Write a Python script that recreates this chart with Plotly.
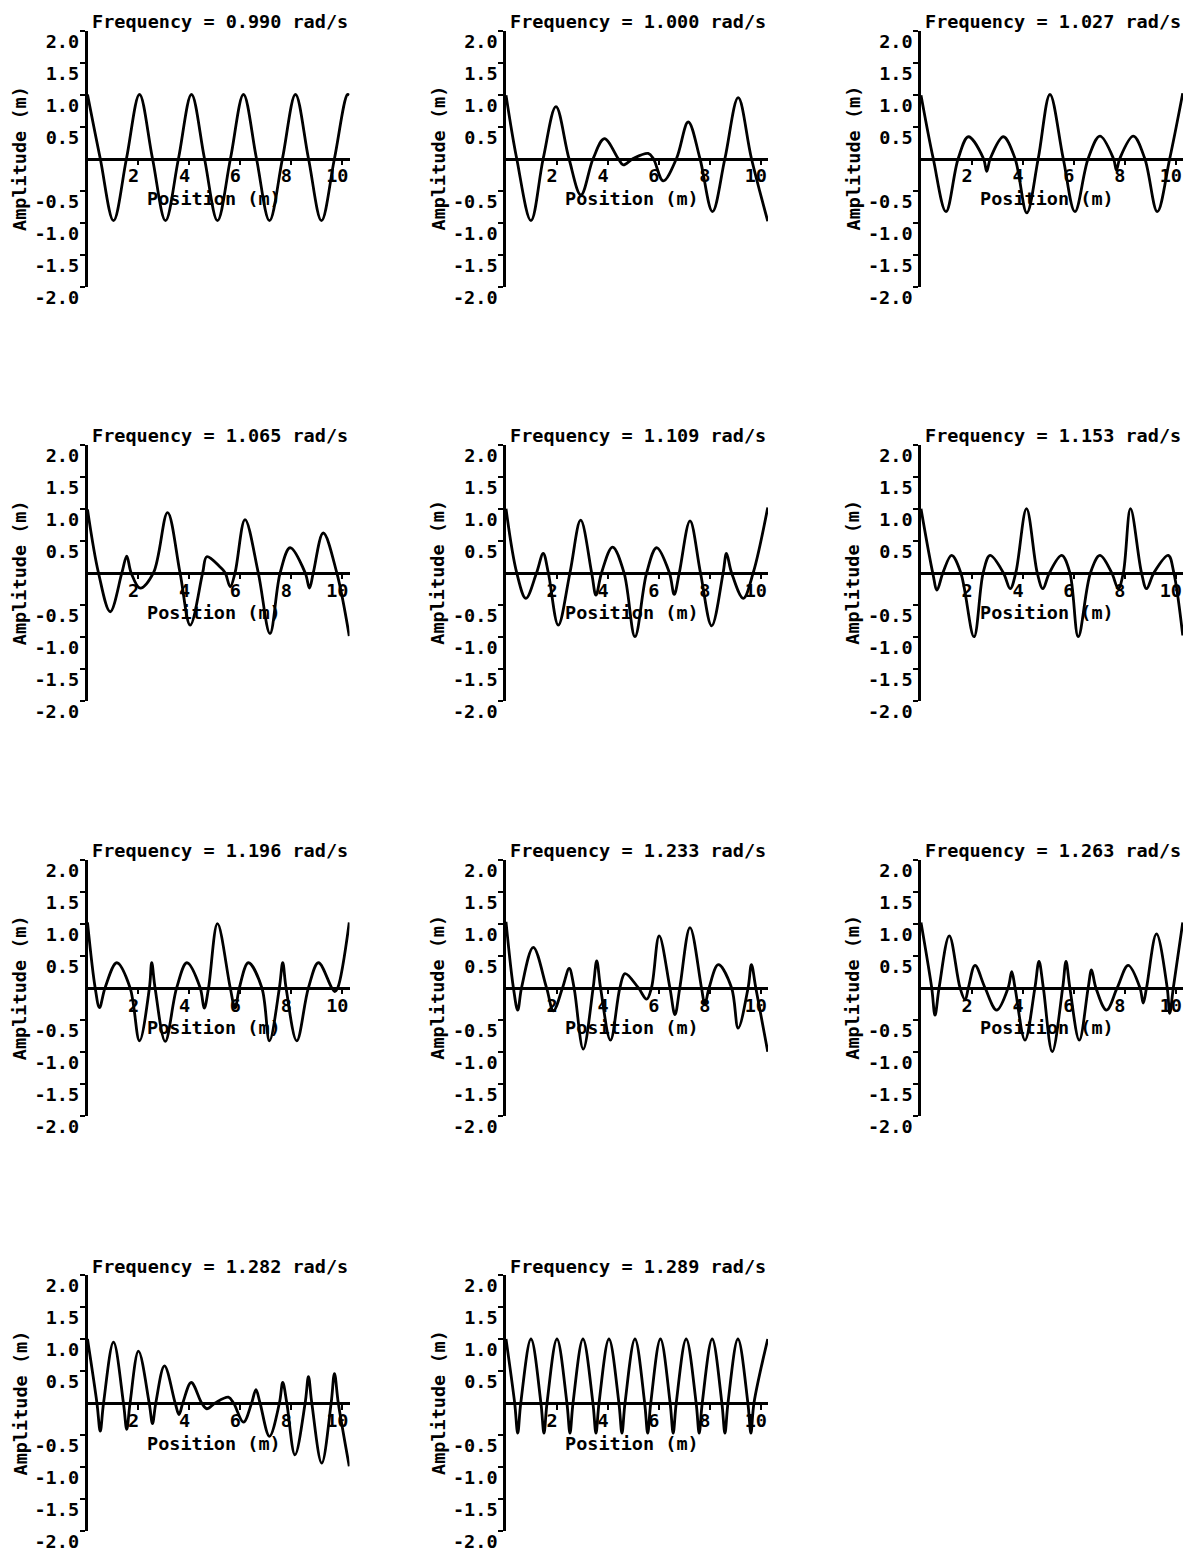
import plotly.graph_objects as go

# ---------------- data ----------------
frequencies = ["0.990", "1.000", "1.027", "1.065", "1.109", "1.153",
               "1.196", "1.233", "1.263", "1.282", "1.289"]

x_0990 = [0, 0.5, 1.02, 1.53, 2.04, 2.55, 3.06, 3.57, 4.08, 4.59, 5.1, 5.61, 6.12,
          6.63, 7.14, 7.65, 8.16, 8.67, 9.18, 9.69, 10.2, 10.27]
y_0990 = [1.0, 0, -0.97, 0, 1.0, 0, -0.97, 0, 1.0, 0, -0.97, 0, 1.0,
          0, -0.97, 0, 1.0, 0, -0.97, 0, 1.0, 0.99]

x_1000 = [0, 0.42, 0.98, 1.46, 1.96, 2.47, 2.94, 3.42, 3.86, 4.4, 4.6, 4.99, 5.58,
          5.78, 6.17, 6.69, 7.15, 7.61, 8.1, 8.59, 9.11, 9.63, 10.27]
y_1000 = [0.99, 0, -0.97, 0, 0.81, 0, -0.57, 0, 0.31, 0, -0.1, 0, 0.08,
          0, -0.35, 0, 0.57, 0, -0.83, 0, 0.95, 0, -0.98]

x_1027 = [0, 0.48, 0.98, 1.46, 1.86, 2.45, 2.58, 2.72, 3.23, 3.69, 4.15, 4.6, 5.06,
          5.58, 6.04, 6.56, 7.02, 7.55, 7.67, 7.8, 8.33, 8.78, 9.27, 9.76, 10.27]
y_1027 = [0.99, 0, -0.83, 0, 0.34, 0, -0.2, 0, 0.34, 0, -0.85, 0, 1.0,
          0, -0.83, 0, 0.35, 0, -0.18, 0, 0.35, 0, -0.83, 0, 1.02]

x_1065 = [0, 0.43, 0.89, 1.35, 1.54, 1.71, 2.07, 2.59, 3.14, 3.63, 4.03, 4.52, 4.68,
          5.2, 5.4, 5.6, 5.79, 6.18, 6.7, 7.16, 7.56, 7.95, 8.54, 8.71, 8.86, 9.25,
          9.78, 10.27]
y_1065 = [0.99, 0, -0.61, 0, 0.26, 0, -0.24, 0, 0.94, 0, -0.82, 0, 0.25,
          0.09, 0, -0.22, 0, 0.83, 0, -0.95, 0, 0.39, 0, -0.24, 0, 0.62,
          0, -0.99]

x_1109 = [0, 0.42, 0.78, 1.2, 1.46, 1.66, 2.05, 2.51, 2.93, 3.36, 3.53, 3.75, 4.18,
          4.63, 5.06, 5.52, 5.91, 6.41, 6.6, 6.8, 7.22, 7.63, 8.07, 8.52, 8.65, 8.85,
          9.31, 9.7, 10.27]
y_1109 = [1.0, 0, -0.4, 0, 0.3, 0, -0.82, 0, 0.82, 0, -0.35, 0, 0.4,
          0, -1.0, 0, 0.39, 0, -0.34, 0, 0.81, 0, -0.83, 0, 0.3, 0,
          -0.4, 0, 1.02]

x_1153 = [0, 0.46, 0.63, 0.86, 1.2, 1.56, 2.08, 2.44, 2.71, 3.23, 3.5, 3.72, 4.14,
          4.56, 4.78, 5.04, 5.52, 5.84, 6.17, 6.65, 7.02, 7.48, 7.74, 7.94, 8.22,
          8.65, 8.85, 9.14, 9.7, 9.92, 10.27]
y_1153 = [1.0, 0, -0.27, 0, 0.27, 0, -1.0, 0, 0.27, 0, -0.25, 0, 1.0,
          0, -0.25, 0, 0.27, 0, -1.0, 0, 0.27, 0, -0.25, 0, 1.0,
          0, -0.25, 0, 0.27, 0, -0.98]

x_1196 = [0, 0.3, 0.47, 0.69, 1.15, 1.67, 2.04, 2.43, 2.52, 2.65, 3.05, 3.5, 3.9,
          4.42, 4.58, 4.75, 5.1, 5.6, 5.79, 5.96, 6.31, 6.84, 7.14, 7.53, 7.66,
          7.79, 8.21, 8.67, 9.06, 9.58, 9.7, 9.82, 10.27]
y_1196 = [1.02, 0, -0.31, 0, 0.39, 0, -0.83, 0, 0.39, 0, -0.84, 0, 0.39,
          0, -0.32, 0, 1.0, 0, -0.32, 0, 0.39, 0, -0.83, 0, 0.39,
          0, -0.83, 0, 0.39, 0, -0.06, 0, 1.02]

x_1233 = [0, 0.29, 0.46, 0.61, 1.07, 1.59, 1.86, 2.22, 2.48, 2.67, 3.03, 3.42, 3.56,
          3.71, 4.1, 4.47, 4.67, 5.19, 5.52, 5.71, 6.01, 6.43, 6.63, 6.82, 7.22,
          7.67, 7.8, 7.97, 8.33, 8.85, 9.11, 9.5, 9.63, 9.8, 10.27]
y_1233 = [1.03, 0, -0.35, 0, 0.63, 0, -0.36, 0, 0.3, 0, -0.96, 0, 0.42,
          0, -0.82, 0, 0.22, 0, -0.18, 0, 0.81, 0, -0.42, 0, 0.94,
          0, -0.26, 0, 0.36, 0, -0.63, 0, 0.36, 0, -1.0]

x_1263 = [0, 0.42, 0.55, 0.71, 1.11, 1.53, 1.73, 1.86, 2.12, 2.51, 2.97, 3.42, 3.56,
          3.69, 4.08, 4.47, 4.63, 4.8, 5.15, 5.56, 5.69, 5.84, 6.21, 6.56, 6.69,
          6.86, 7.28, 7.7, 8.13, 8.59, 8.72, 8.85, 9.24, 9.66, 9.76, 9.9, 10.27]
y_1263 = [1.02, 0, -0.43, 0, 0.81, 0, -0.19, 0, 0.35, 0, -0.35, 0, 0.25,
          0, -0.82, 0, 0.41, 0, -1.0, 0, 0.41, 0, -0.82, 0, 0.28,
          0, -0.35, 0, 0.35, 0, -0.24, 0, 0.84, 0, -0.4, 0, 1.02]

x_1282 = [0, 0.37, 0.5, 0.63, 1.02, 1.41, 1.54, 1.67, 2.0, 2.42, 2.55, 2.68, 3.02,
          3.44, 3.59, 3.74, 4.07, 4.48, 4.68, 5.01, 5.53, 5.73, 6.12, 6.44, 6.61,
          6.77, 7.14, 7.53, 7.66, 7.82, 8.14, 8.54, 8.67, 8.8, 9.19, 9.56, 9.69,
          9.84, 10.27]
y_1282 = [1.0, 0, -0.44, 0, 0.95, 0, -0.41, 0, 0.81, 0, -0.32, 0, 0.58,
          0, -0.18, 0, 0.32, 0, -0.09, 0, 0.09, 0, -0.3, 0, 0.21,
          0, -0.52, 0, 0.32, 0, -0.81, 0, 0.41, 0, -0.94, 0, 0.46,
          0, -0.99]

x_1289 = [0, 0.34, 0.46, 0.58, 0.98, 1.37, 1.49, 1.61, 2.0, 2.39, 2.51, 2.63, 3.02,
          3.41, 3.53, 3.65, 4.04, 4.43, 4.55, 4.67, 5.06, 5.44, 5.56, 5.68, 6.06,
          6.44, 6.56, 6.68, 7.07, 7.46, 7.58, 7.7, 8.09, 8.47, 8.59, 8.71, 9.1,
          9.49, 9.61, 9.73, 10.27]
y_1289 = [1.0, 0, -0.47, 0, 1.0, 0, -0.47, 0, 1.0, 0, -0.47, 0, 1.0,
          0, -0.47, 0, 1.0, 0, -0.47, 0, 1.0, 0, -0.47, 0, 1.0,
          0, -0.47, 0, 1.0, 0, -0.47, 0, 1.0, 0, -0.47, 0, 1.0,
          0, -0.47, 0, 1.0]

series_x = [x_0990, x_1000, x_1027, x_1065, x_1109, x_1153,
            x_1196, x_1233, x_1263, x_1282, x_1289]
series_y = [y_0990, y_1000, y_1027, y_1065, y_1109, y_1153,
            y_1196, y_1233, y_1263, y_1282, y_1289]

x_tick_vals = [2, 4, 6, 8, 10]
x_tick_text = ["2", "4", "6", "8", "10"]
y_tick_vals = [2.0, 1.5, 1.0, 0.5, -0.5, -1.0, -1.5, -2.0]
y_tick_text = ["2.0", "1.5", "1.0", "0.5", "-0.5", "-1.0", "-1.5", "-2.0"]

# ---------------- layout geometry ----------------
W, H = 1189, 1553
col_left = [87.5, 506, 921]
row_top = [30.5, 444.7, 859.7, 1275]
pw, ph = 262, 256

FONT = "DejaVu Sans Mono"
fsize = 18.5

fig = go.Figure()
annotations = []
layout_axes = {}

for i, (fx, xs, ys) in enumerate(zip(frequencies, series_x, series_y)):
    r, c = divmod(i, 3)
    left = col_left[c]
    top = row_top[r]
    k = "" if i == 0 else str(i + 1)
    xd = [left / W, (left + pw) / W]
    yd = [1 - (top + ph) / H, 1 - top / H]
    zero_paper = 1 - (top + ph / 2) / H

    fig.add_trace(go.Scatter(
        x=xs, y=ys, mode="lines",
        line=dict(color="black", width=2.8, shape="spline", smoothing=1.0),
        xaxis="x" + k, yaxis="y" + k, showlegend=False, hoverinfo="skip"))

    layout_axes["xaxis" + k] = dict(
        domain=xd, range=[0, 10.28], anchor="free", position=zero_paper,
        showline=True, linecolor="black", linewidth=2.5,
        ticks="outside", ticklen=5, tickwidth=2, tickcolor="black",
        tickvals=x_tick_vals, ticktext=x_tick_text,
        ticklabelshift=-5, ticklabelstandoff=-5,
        tickfont=dict(family=FONT, size=fsize, color="black", weight="bold"),
        showgrid=False, zeroline=False, fixedrange=True, automargin=False)
    layout_axes["yaxis" + k] = dict(
        domain=yd, range=[-2, 2], anchor="x" + k,
        showline=True, linecolor="black", linewidth=2.5,
        ticks="outside", ticklen=5, tickwidth=2, tickcolor="black",
        tickvals=y_tick_vals, ticktext=y_tick_text,
        ticklabelshift=11, ticklabelstandoff=-3,
        tickfont=dict(family=FONT, size=fsize, color="black", weight="bold"),
        showgrid=False, zeroline=False, fixedrange=True, automargin=False)

    # panel title
    annotations.append(dict(
        text="Frequency = %s rad/s" % fx, xref="paper", yref="paper",
        x=(left + 2) / W, y=1 - (top - 9) / H, xanchor="left", yanchor="middle",
        showarrow=False, font=dict(family=FONT, size=fsize, color="black", weight="bold")))
    # x-axis title
    annotations.append(dict(
        text="Position (m)", xref="paper", yref="paper",
        x=(left + 126) / W, y=1 - (top + ph / 2 + 40) / H,
        xanchor="center", yanchor="middle", showarrow=False,
        font=dict(family=FONT, size=fsize, color="black", weight="bold")))
    # y-axis title
    annotations.append(dict(
        text="Amplitude (m)", xref="paper", yref="paper",
        x=(left - 68) / W, y=1 - (top + ph / 2) / H, textangle=-90,
        xanchor="center", yanchor="middle", showarrow=False,
        font=dict(family=FONT, size=fsize, color="black", weight="bold")))

fig.update_layout(
    width=W, height=H, margin=dict(l=0, r=0, t=0, b=0, autoexpand=False),
    paper_bgcolor="white", plot_bgcolor="white",
    annotations=annotations, showlegend=False, **layout_axes)

fig.write_html("out.html", config={"displayModeBar": False},
               post_script="document.body.style.margin='0px';")
